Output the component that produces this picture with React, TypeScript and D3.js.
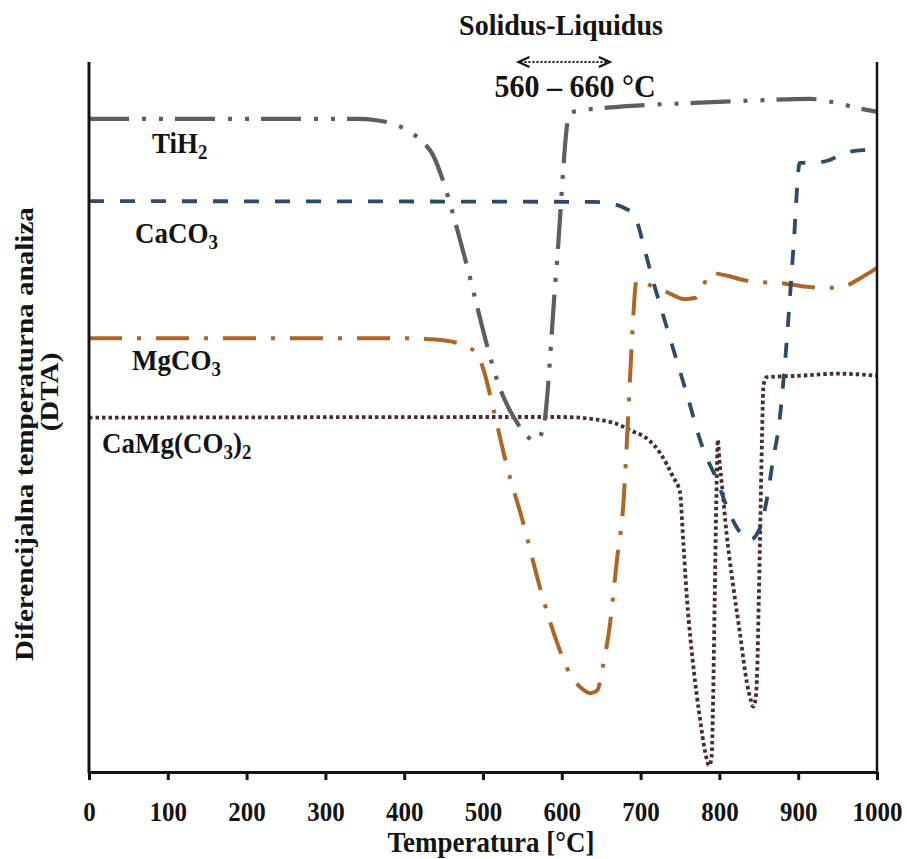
import { useEffect, useRef } from 'react';
import * as d3 from 'd3';

type Pt = [number, number];

// temperature (°C), DTA signal in arbitrary units (0 = x axis, 100 = top of frame)
const tih2: Pt[] = [
  [0, 92.0], [340, 92.0], [365, 91.8], [386, 91.3], [405, 90.3], [424, 88.7], [437, 86.8],
  [448, 83.7], [458, 80.1], [471, 74.9], [481, 70.7], [492, 65.8], [505, 60.1], [520, 54.5],
  [532, 51.4], [545, 48.9], [556, 47.3], [566, 46.6], [576, 48.2], [593, 70.6], [610, 92.8],
  [620, 93.1], [650, 93.5], [700, 93.9], [760, 94.2], [850, 94.6], [915, 94.8], [950, 94.2],
  [980, 93.4], [1000, 93.0],
];

const caco3: Pt[] = [
  [0, 80.4], [640, 80.3], [665, 80.0], [680, 79.4], [690, 78.6], [697, 77.0], [703, 74.5],
  [712, 70.7], [733, 62.7], [759, 53.1], [779, 45.6], [797, 41.1], [810, 37.2], [826, 33.8],
  [839, 32.7], [852, 34.5], [860, 38.3], [868, 43.9], [876, 49.2], [885, 60.1], [894, 73.9],
  [902, 85.8], [919, 85.8], [940, 86.2], [953, 86.9], [982, 87.6], [1000, 87.6],
];

const mgco3: Pt[] = [
  [0, 61.1], [400, 61.1], [440, 60.9], [465, 60.5], [482, 59.8], [492, 58.9], [500, 56.9],
  [512, 51.7], [530, 43.2], [550, 35.5], [575, 24.9], [595, 17.9], [610, 13.9], [625, 11.8],
  [636, 11.1], [645, 11.5], [652, 14.8], [661, 20.7], [670, 29.9], [678, 37.6], [684, 49.6],
  [689, 60.8], [695, 69.3], [715, 68.4], [735, 67.5], [755, 66.6], [770, 66.8], [780, 68.6],
  [788, 70.3], [810, 69.9], [830, 69.3], [850, 69.0], [875, 68.9], [915, 68.3], [937, 68.2],
  [955, 68.3], [975, 69.3], [990, 70.3], [1000, 71.0],
];

const camgco3: Pt[] = [
  [0, 49.9], [560, 50.0], [600, 50.0], [640, 49.7], [665, 49.2], [690, 48.0], [710, 46.8],
  [725, 44.9], [741, 41.6], [750, 39.4], [754, 32.7], [759, 24.2], [767, 14.8], [775, 7.8],
  [782, 2.8], [787, 0.9], [790, 2.0], [792, 10.1], [794, 24.2], [796, 37.6], [798, 46.8],
  [800, 43.9], [803, 40.7], [809, 33.7], [817, 26.6], [826, 19.6], [835, 12.5], [840, 10.1],
  [843, 9.2], [846, 10.4], [848, 14.4], [850, 24.2], [852, 35.5], [854, 46.8], [856, 54.5],
  [860, 55.6], [900, 55.8], [950, 56.1], [1000, 55.8],
];

const xTicks = [0, 100, 200, 300, 400, 500, 600, 700, 800, 900, 1000];
const arrowSpan = [545, 661];

export default function App() {
  const svgRef = useRef<SVGSVGElement>(null);

  useEffect(() => {
    if (!svgRef.current) return;
    const svg = d3.select(svgRef.current);
    svg.selectAll('*').remove();

    const font = '"Liberation Serif", "Times New Roman", serif';
    const ink = '#141414';

    const x = d3.scaleLinear().domain([0, 1000]).range([89, 877]);
    const y = d3.scaleLinear().domain([0, 100]).range([772, 62]);

    // text helper: parts are [text, isSubscript]; sy mimics the vertically stretched scan
    const addText = (
      px: number, py: number, parts: [string, boolean][], size: number,
      anchor = 'start', rotate = false, sy = 1.1,
    ) => {
      const t = svg.append('text')
        .attr('transform', `translate(${px},${py}) scale(1,${sy})${rotate ? ' rotate(-90)' : ''}`)
        .attr('text-anchor', anchor)
        .attr('font-family', font)
        .attr('font-weight', 'bold')
        .attr('font-size', size)
        .attr('fill', ink);
      let shift = 0;
      parts.forEach(([s, sub]) => {
        const target = sub ? 5 : 0;
        t.append('tspan')
          .attr('font-size', sub ? size * 0.7 : size)
          .attr('dy', target - shift)
          .text(s);
        shift = target;
      });
    };

    // curves
    const line = d3.line<Pt>()
      .x(d => x(d[0]))
      .y(d => y(d[1]))
      .curve(d3.curveMonotoneX);

    const series = [
      { data: camgco3, color: '#4b2b30', width: 3.8, dash: '3.5,3' },
      { data: mgco3, color: '#ad6626', width: 4, dash: '33,15,4,15' },
      { data: caco3, color: '#2d4b6b', width: 3.8, dash: '15,16' },
      { data: tih2, color: '#5e5e5e', width: 4.2, dash: '40,13,4,13,4,12' },
    ];

    svg.append('g')
      .selectAll('path')
      .data(series)
      .join('path')
      .attr('d', d => line(d.data))
      .attr('fill', 'none')
      .attr('stroke', d => d.color)
      .attr('stroke-width', d => d.width)
      .attr('stroke-dasharray', d => d.dash);

    // frame: left and right lines, no top
    svg.append('line')
      .attr('x1', x(0)).attr('x2', x(0))
      .attr('y1', y(100)).attr('y2', y(0) + 1.5)
      .attr('stroke', ink).attr('stroke-width', 3);
    svg.append('line')
      .attr('x1', x(1000)).attr('x2', x(1000))
      .attr('y1', y(100)).attr('y2', y(0) + 1.5)
      .attr('stroke', ink).attr('stroke-width', 2.5);

    // x axis
    const xAxis = d3.axisBottom(x)
      .tickValues(xTicks)
      .tickSize(8)
      .tickSizeOuter(0)
      .tickFormat(d3.format('d'));

    const gx = svg.append('g')
      .attr('transform', `translate(0,${y(0)})`)
      .call(xAxis)
      .attr('font-family', font)
      .attr('font-size', 25);
    gx.select('.domain').attr('stroke', ink).attr('stroke-width', 3);
    gx.selectAll('.tick line').attr('stroke', ink).attr('stroke-width', 3);
    gx.selectAll('.tick text')
      .attr('transform', 'scale(1,1.1)')
      .attr('y', 49 / 1.1)
      .attr('dy', null)
      .attr('font-size', 25)
      .attr('font-weight', 'bold')
      .attr('fill', ink);

    // axis titles
    addText(491, 852, [['Temperatura [°C]', false]], 27, 'middle');
    addText(33, 434, [['Diferencijalna temperaturna analiza', false]], 26, 'middle', true, 1.12);
    addText(58, 392, [['(DTA)', false]], 26, 'middle', true, 1.12);

    // series labels
    addText(152, 153, [['TiH', false], ['2', true]], 27);
    addText(135, 243, [['CaCO', false], ['3', true]], 27);
    addText(132, 370, [['MgCO', false], ['3', true]], 27);
    addText(102, 453, [['CaMg(CO', false], ['3', true], [')', false], ['2', true]], 27);

    // solidus-liquidus annotation
    addText(561, 35, [['Solidus-Liquidus', false]], 28, 'middle', false, 1.05);
    addText(575, 97, [['560 – 660 °C', false]], 30, 'middle', false, 1.08);

    const ay = 62;
    const ax0 = x(arrowSpan[0]);
    const ax1 = x(arrowSpan[1]);
    svg.append('line')
      .attr('x1', ax0 + 2).attr('x2', ax1 - 2)
      .attr('y1', ay).attr('y2', ay)
      .attr('stroke', ink).attr('stroke-width', 2)
      .attr('stroke-dasharray', '2,2');
    svg.append('path')
      .attr('d', `M${ax0 + 11},${ay - 5}L${ax0},${ay}L${ax0 + 11},${ay + 5}`)
      .attr('fill', 'none').attr('stroke', ink).attr('stroke-width', 2.2);
    svg.append('path')
      .attr('d', `M${ax1 - 11},${ay - 5}L${ax1},${ay}L${ax1 - 11},${ay + 5}`)
      .attr('fill', 'none').attr('stroke', ink).attr('stroke-width', 2.2);
  }, []);

  return (
    <svg
      ref={svgRef}
      width={907}
      height={859}
      style={{ position: 'absolute', left: 0, top: 0, background: '#fff' }}
    />
  );
}
